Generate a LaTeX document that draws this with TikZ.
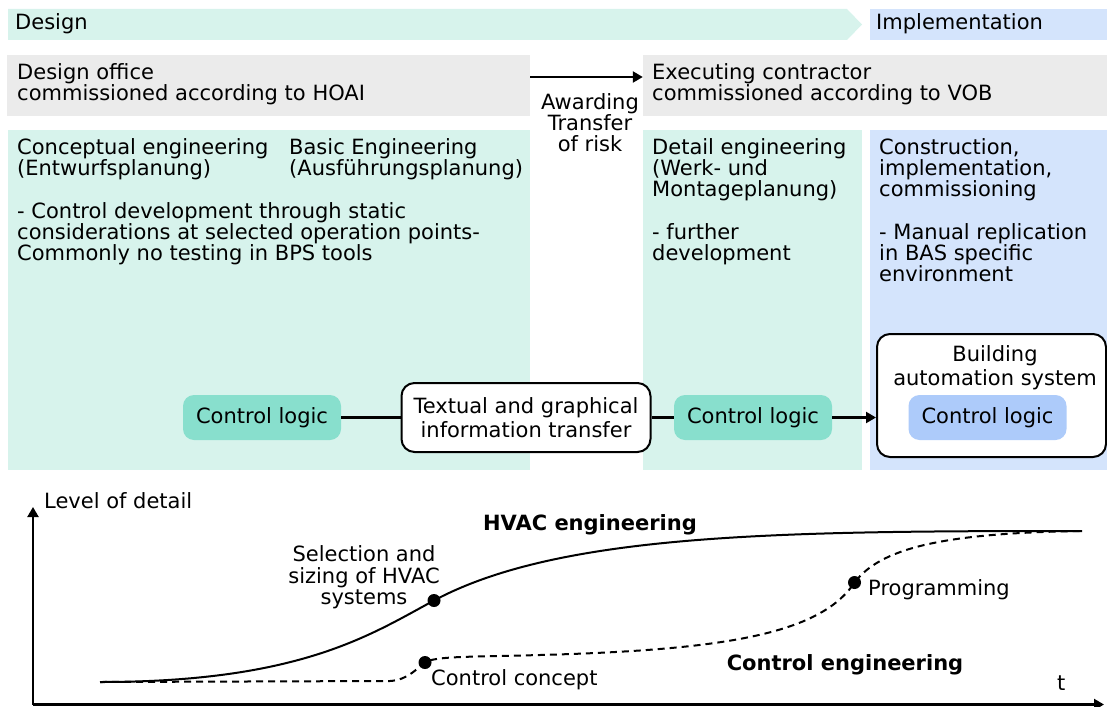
\documentclass[tikz,border=0pt]{standalone}
\usepackage{fontspec}
\setmainfont{DejaVu Sans}
\usetikzlibrary{arrows.meta}

\definecolor{teallight}{HTML}{D7F3EC}
\definecolor{tealdark}{HTML}{88DFCD}
\definecolor{bluelight}{HTML}{D4E4FC}
\definecolor{bluedark}{HTML}{ADCBFA}
\definecolor{panelgray}{HTML}{EBEBEB}

\tikzset{
  txt/.style={anchor=north west, inner sep=0pt, align=left},
  ctxt/.style={anchor=north, inner sep=0pt, align=center},
  ltxt/.style={anchor=base west, inner sep=0pt},
  btxt/.style={anchor=base, inner sep=0pt, font=\fontsize{21}{21.2}\selectfont\bfseries},
  logic/.style={rounded corners=11pt, minimum width=158pt, minimum height=45pt, inner sep=0pt},
  wbox/.style={draw, line width=2pt, fill=white, rounded corners=13pt, inner sep=0pt, align=center},
  conn/.style={line width=2.2pt},
  tip/.style={-{Triangle[length=10pt,width=11pt]}},
  curve/.style={line width=2pt},
  dotted curve/.style={line width=2pt, dash pattern=on 7pt off 5pt},
  milestone/.style={circle, fill=black, inner sep=0pt, minimum size=13pt},
}

\begin{document}
\begin{tikzpicture}[x=1pt, y=-1pt, font=\fontsize{21}{21.2}\selectfont]
\useasboundingbox (0,0) rectangle (1107,706);

% phase bands
\fill[teallight] (8,9) -- (847,9) -- (862,24.5) -- (847,40) -- (8,40) -- cycle;
\fill[bluelight] (870,9) rectangle (1107,40);
\node[ltxt] (design) at (15,30) {Design};
\node[ltxt] (impl) at (876,30) {Implementation};

% contract panels
\node[fill=panelgray, minimum width=523pt, minimum height=61pt, inner sep=0pt] (office) at (268.5,85.5) {};
\node[fill=panelgray, minimum width=464pt, minimum height=61pt, inner sep=0pt] (contractor) at (875,85.5) {};
\node[txt] (officetxt) at (17,63) {Design office\\commissioned according to HOAI};
\node[txt] (contrtxt) at (652,63) {Executing contractor\\commissioned according to VOB};
\draw[conn, tip] ([yshift=8.5pt]office.east) -- ([yshift=8.5pt]contractor.west);
\node[ctxt] (award) at (590,93.3) {Awarding\\Transfer\\of risk};

% engineering phases
\fill[teallight] (8,130) rectangle (530,470);
\fill[teallight] (643,130) rectangle (862,470);
\fill[bluelight] (870,130) rectangle (1107,470);
\node[txt] (concept) at (17,138.3) {Conceptual engineering\\(Entwurfsplanung)\\[21.2pt]- Control development through static\\considerations at selected operation points-\\Commonly no testing in BPS tools};
\node[txt] (basic) at (289,138.3) {Basic Engineering\\(Ausführungsplanung)};
\node[txt] (detail) at (652,138.3) {Detail engineering\\(Werk- und\\Montageplanung)\\[21.2pt]- further\\development};
\node[txt] (constr) at (879,138.3) {Construction,\\implementation,\\commissioning\\[21.2pt]- Manual replication\\in BAS specific\\environment};

% control logic hand-over
\node[logic, fill=tealdark] (cl1) at (262,417.5) {Control logic};
\node[wbox, minimum width=249pt, minimum height=69pt] (transfer) at (526,417.5) {Textual and graphical\\[3pt]information transfer};
\node[logic, fill=tealdark] (cl2) at (753,417.5) {Control logic};
\node[wbox, minimum width=229pt, minimum height=123pt] (bas) at (991.5,395.5) {};
\node[ctxt] (bastxt) at (995,345.7) {Building\\[2.3pt]automation system};
\node[logic, fill=bluedark] (cl3) at (987.5,417.5) {Control logic};
\draw[conn] (cl1) -- (transfer);
\draw[conn] (transfer) -- (cl2);
\draw[conn, tip] (cl2.east) -- (cl2.east -| bas.west);

% level of detail over time
\coordinate (origin) at (33,704.5);
\coordinate (ytop) at (33,507);
\coordinate (xend) at (1104,704.5);
\draw[conn, tip] (origin) -- (ytop);
\draw[conn, tip] (origin) -- (xend);
\node[ltxt] (ylabel) at (44,508) {Level of detail};
\node[ltxt] (tlabel) at (1057,690) {t};

\coordinate (start) at (100,682);
\coordinate (hend) at (1082,531);
\node[milestone] (sizing) at (434,600.5) {};
\node[milestone] (cconcept) at (425,662.5) {};
\node[milestone] (prog) at (854.5,582.5) {};

\draw[curve] (start) .. controls (300,682) and (370,635) .. (sizing.center)
  .. controls (560,533) and (780,531) .. (hend);
\draw[dotted curve] (start) -- (390,681) .. controls (408,680) and (417,668) .. (cconcept.center)
  .. controls (435,656) and (470,657) .. (540,655)
  .. controls (720,650) and (820,635) .. (prog.center)
  .. controls (880,549) and (940,533) .. (hend);

\node[btxt] (hvac) at (590,530) {HVAC engineering};
\node[btxt] (ctrl) at (845,670) {Control engineering};
\node[ctxt] (sizingtxt) at (364,545.7) {Selection and\\sizing of HVAC\\systems};
\node[ltxt] (concepttxt) at (431,685) {Control concept};
\node[ltxt] (progtxt) at (868,595) {Programming};
\end{tikzpicture}
\end{document}
